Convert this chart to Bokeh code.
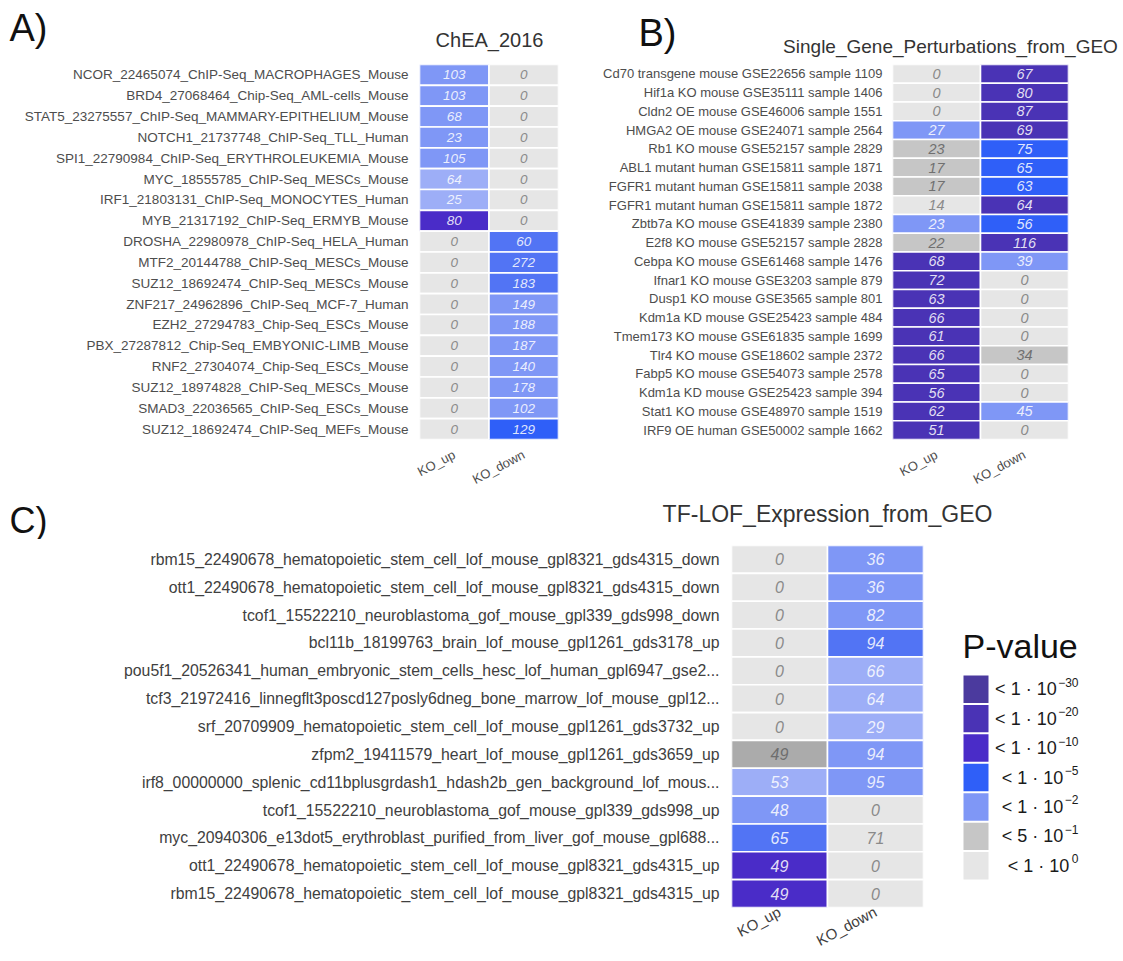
import math
from bokeh.plotting import figure
from bokeh.models import ColumnDataSource, FactorRange, Range1d
from bokeh.layouts import column, row
from bokeh.embed import file_html
from bokeh.resources import INLINE
from bokeh.core.properties import value

FONT = "Liberation Sans"
COLUMNS = ["KO_up", "KO_down"]

# ---------------- data ----------------
A_labels = [
    "NCOR_22465074_ChIP-Seq_MACROPHAGES_Mouse",
    "BRD4_27068464_Chip-Seq_AML-cells_Mouse",
    "STAT5_23275557_ChIP-Seq_MAMMARY-EPITHELIUM_Mouse",
    "NOTCH1_21737748_ChIP-Seq_TLL_Human",
    "SPI1_22790984_ChIP-Seq_ERYTHROLEUKEMIA_Mouse",
    "MYC_18555785_ChIP-Seq_MESCs_Mouse",
    "IRF1_21803131_ChIP-Seq_MONOCYTES_Human",
    "MYB_21317192_ChIP-Seq_ERMYB_Mouse",
    "DROSHA_22980978_ChIP-Seq_HELA_Human",
    "MTF2_20144788_ChIP-Seq_MESCs_Mouse",
    "SUZ12_18692474_ChIP-Seq_MESCs_Mouse",
    "ZNF217_24962896_ChIP-Seq_MCF-7_Human",
    "EZH2_27294783_Chip-Seq_ESCs_Mouse",
    "PBX_27287812_Chip-Seq_EMBYONIC-LIMB_Mouse",
    "RNF2_27304074_Chip-Seq_ESCs_Mouse",
    "SUZ12_18974828_ChIP-Seq_MESCs_Mouse",
    "SMAD3_22036565_ChIP-Seq_ESCs_Mouse",
    "SUZ12_18692474_ChIP-Seq_MEFs_Mouse",
]
A_up = [103, 103, 68, 23, 105, 64, 25, 80, 0, 0, 0, 0, 0, 0, 0, 0, 0, 0]
A_down = [0, 0, 0, 0, 0, 0, 0, 0, 60, 272, 183, 149, 188, 187, 140, 178, 102, 129]
A_up_p = ["e2", "e2", "e2", "e2", "e2", "e1", "e1", "e10",
          "g1", "g1", "g1", "g1", "g1", "g1", "g1", "g1", "g1", "g1"]
A_down_p = ["g1", "g1", "g1", "g1", "g1", "g1", "g1", "g1",
            "e4", "e4", "e4", "e2", "e2", "e2", "e2", "e2", "e2", "e5"]

B_labels = [
    "Cd70 transgene mouse GSE22656 sample 1109",
    "Hif1a KO mouse GSE35111 sample 1406",
    "Cldn2 OE mouse GSE46006 sample 1551",
    "HMGA2 OE mouse GSE24071 sample 2564",
    "Rb1 KO mouse GSE52157 sample 2829",
    "ABL1 mutant human GSE15811 sample 1871",
    "FGFR1 mutant human GSE15811 sample 2038",
    "FGFR1 mutant human GSE15811 sample 1872",
    "Zbtb7a KO mouse GSE41839 sample 2380",
    "E2f8 KO mouse GSE52157 sample 2828",
    "Cebpa KO mouse GSE61468 sample 1476",
    "Ifnar1 KO mouse GSE3203 sample 879",
    "Dusp1 KO mouse GSE3565 sample 801",
    "Kdm1a KD mouse GSE25423 sample 484",
    "Tmem173 KO mouse GSE61835 sample 1699",
    "Tlr4 KO mouse GSE18602 sample 2372",
    "Fabp5 KO mouse GSE54073 sample 2578",
    "Kdm1a KD mouse GSE25423 sample 394",
    "Stat1 KO mouse GSE48970 sample 1519",
    "IRF9 OE human GSE50002 sample 1662",
]
B_up = [0, 0, 0, 27, 23, 17, 17, 14, 23, 22, 68, 72, 63, 66, 61, 66, 65, 56, 62, 51]
B_down = [67, 80, 87, 69, 75, 65, 63, 64, 56, 116, 39, 0, 0, 0, 0, 34, 0, 0, 45, 0]
B_up_p = ["g1", "g1", "g1", "e2", "g5", "g5", "g5", "g1", "e2", "g5",
          "e20", "e20", "e20", "e20", "e20", "e20", "e20", "e20", "e20", "e20"]
B_down_p = ["e20", "e20", "e20", "e20", "e5", "e5", "e5", "e20", "e5", "e20",
            "e2", "g1", "g1", "g1", "g1", "g5", "g1", "g1", "e2", "g1"]

C_labels = [
    "rbm15_22490678_hematopoietic_stem_cell_lof_mouse_gpl8321_gds4315_down",
    "ott1_22490678_hematopoietic_stem_cell_lof_mouse_gpl8321_gds4315_down",
    "tcof1_15522210_neuroblastoma_gof_mouse_gpl339_gds998_down",
    "bcl11b_18199763_brain_lof_mouse_gpl1261_gds3178_up",
    "pou5f1_20526341_human_embryonic_stem_cells_hesc_lof_human_gpl6947_gse2...",
    "tcf3_21972416_linnegflt3poscd127posly6dneg_bone_marrow_lof_mouse_gpl12...",
    "srf_20709909_hematopoietic_stem_cell_lof_mouse_gpl1261_gds3732_up",
    "zfpm2_19411579_heart_lof_mouse_gpl1261_gds3659_up",
    "irf8_00000000_splenic_cd11bplusgrdash1_hdash2b_gen_background_lof_mous...",
    "tcof1_15522210_neuroblastoma_gof_mouse_gpl339_gds998_up",
    "myc_20940306_e13dot5_erythroblast_purified_from_liver_gof_mouse_gpl688...",
    "ott1_22490678_hematopoietic_stem_cell_lof_mouse_gpl8321_gds4315_up",
    "rbm15_22490678_hematopoietic_stem_cell_lof_mouse_gpl8321_gds4315_up",
]
C_up = [0, 0, 0, 0, 0, 0, 0, 49, 53, 48, 65, 49, 49]
C_down = [36, 36, 82, 94, 66, 64, 29, 94, 95, 0, 71, 0, 0]
C_up_p = ["g1", "g1", "g1", "g1", "g1", "g1", "g1", "g3", "e1", "e2", "e4", "e10", "e10"]
C_down_p = ["e2", "e2", "e2", "e4", "e1", "e1", "e1", "e2", "e2", "g1", "g1", "g1", "g1"]

legend_levels = ["e30", "e20", "e10", "e5", "e2", "g5", "g1"]
legend_base = ["< 1 \u00b7  10", "< 1 \u00b7  10", "< 1 \u00b7  10", "< 1 \u00b7  10",
               "< 1 \u00b7  10", "< 5 \u00b7  10", "< 1 \u00b7  10"]
legend_exp = ["\u221230", "\u221220", "\u221210", "\u22125", "\u22122", "\u22121", "0"]

# ---------------- styles ----------------
TIER_FILL = {
    "e30": "#4B3A9E", "e20": "#4A33B5", "e10": "#4A2CC8", "e5": "#2F5FF8",
    "e4": "#5274F4", "e2": "#7F97F6", "e1": "#9DAEF7",
    "g3": "#ABABAB", "g5": "#C6C6C6", "g1": "#E6E6E6",
}
TIER_TEXT = {
    "e30": "#FFFFFFD9", "e20": "#FFFFFFD9", "e10": "#FFFFFFD9", "e5": "#FFFFFFD9",
    "e4": "#FFFFFFD9", "e2": "#FFFFFFD9", "e1": "#FFFFFFD9",
    "g3": "#6E6E6E", "g5": "#707070", "g1": "#8A8A8A",
}


def heatmap(labels, up, down, up_p, down_p, width, height, bl, br, bt, bb,
            ylab_size, cell_size, xlab_size, xlab_angle, y_standoff, x_standoff,
            lab_color="#4D4D4D"):
    p = figure(width=width, height=height,
               x_range=FactorRange(*COLUMNS), y_range=FactorRange(*labels[::-1]),
               output_backend="svg", toolbar_location=None,
               min_border_left=bl, min_border_right=br,
               min_border_top=bt, min_border_bottom=bb)
    n = len(labels)
    src = ColumnDataSource(dict(
        x=["KO_up"] * n + ["KO_down"] * n,
        y=list(labels) + list(labels),
        v=[str(v) for v in list(up) + list(down)],
        fill=[TIER_FILL[t] for t in list(up_p) + list(down_p)],
        tc=[TIER_TEXT[t] for t in list(up_p) + list(down_p)],
    ))
    p.rect(x="x", y="y", width=1, height=1, source=src,
           fill_color="fill", line_color="white", line_width=1.6)
    p.text(x="x", y="y", text="v", source=src, text_color="tc",
           text_align="center", text_baseline="middle",
           text_font=value(FONT), text_font_style="italic",
           text_font_size=cell_size)
    p.grid.grid_line_color = None
    p.outline_line_color = None
    p.background_fill_color = "white"
    p.border_fill_color = "white"
    for ax in (p.xaxis, p.yaxis):
        ax.axis_line_color = None
        ax.major_tick_line_color = None
        ax.minor_tick_line_color = None
        ax.major_tick_out = 0
        ax.major_tick_in = 0
        ax.major_label_text_font = FONT
        ax.major_label_text_color = lab_color
    p.yaxis.major_label_text_font_size = ylab_size
    p.yaxis.major_label_standoff = y_standoff
    p.xaxis.major_label_text_font_size = xlab_size
    p.xaxis.major_label_orientation = math.radians(xlab_angle)
    p.xaxis.major_label_standoff = x_standoff
    return p


def header(width, height, items):
    """Text-only strip holding panel letters and titles (pixel coordinates,
    y = vertical centre of the text)."""
    h = figure(width=width, height=height, x_range=Range1d(0, width),
               y_range=Range1d(height, 0), output_backend="svg",
               toolbar_location=None, x_axis_type=None, y_axis_type=None,
               min_border_left=0, min_border_right=0,
               min_border_top=0, min_border_bottom=0)
    h.outline_line_color = None
    for text, x, y, size, color, align in items:
        h.text(x=[x], y=[y], text=[text], text_font=value(FONT),
               text_font_size=size, text_color=color, text_align=align,
               text_baseline="middle")
    return h


TOTAL_W = 1121

head1 = header(TOTAL_W, 60, [
    ("A)", 9, 27, "38px", "#111111", "left"),
    ("ChEA_2016", 489, 39, "20px", "#333333", "center"),
    ("B)", 638, 32, "38px", "#111111", "left"),
    ("Single_Gene_Perturbations_from_GEO", 950, 46, "19px", "#333333", "center"),
])

# Panel A (frame 419-558 x, 64-440 y on page)
pa = heatmap(A_labels, A_up, A_down, A_up_p, A_down_p, 587, 436, 419, 29, 4, 56,
             "13.5px", "13.5px", "13px", 28, 11, 14)
# Panel B (frame 892-1068)
pb = heatmap(B_labels, B_up, B_down, B_up_p, B_down_p, TOTAL_W - 587, 436, 305,
             TOTAL_W - 587 - 305 - 176, 4, 56,
             "13px", "14.5px", "13px", 28, 10, 14)

head2 = header(TOTAL_W, 43, [
    ("C)", 9, 23.5, "36px", "#111111", "left"),
    ("TF-LOF_Expression_from_GEO", 827, 17, "23px", "#333333", "center"),
])

# Panel C (frame 731-923 x, 545-907 y)
pc = heatmap(C_labels, C_up, C_down, C_up_p, C_down_p, 932, 420, 731, 9, 6, 52,
             "15.8px", "16px", "15px", 28, 12, 3, lab_color="#404040")

# Legend (same vertical frame as panel C; pixel coordinates inside it)
LW = TOTAL_W - 932
pl = figure(width=LW, height=420, x_range=Range1d(0, LW), y_range=Range1d(362, 0),
            output_backend="svg", toolbar_location=None,
            x_axis_type=None, y_axis_type=None,
            min_border_left=0, min_border_right=0,
            min_border_top=6, min_border_bottom=52)
pl.outline_line_color = None
pitch = 29.43
SUP = 12.0      # superscript font size (px)
RIGHT = 146.0   # right edge of legend labels


def sup_width(s):
    return sum((0.5 if ch == "\u2212" else 0.556) * SUP for ch in s)


ly = [129 + pitch * (i + 0.5) for i in range(len(legend_levels))]
lsrc = ColumnDataSource(dict(
    y=ly, ysup=[v - 7 for v in ly],
    base=legend_base, exp=legend_exp,
    xb=[RIGHT - sup_width(e) + 2.5 for e in legend_exp],
    fill=[TIER_FILL[t] for t in legend_levels]))
pl.rect(x=43.5, y="y", width=25, height=pitch - 2, source=lsrc,
        fill_color="fill", line_color=None)
pl.text(x="xb", y="y", text="base", source=lsrc, text_align="right",
        text_baseline="middle", text_font=value(FONT), text_font_size="18px",
        text_color="#1A1A1A")
pl.text(x=RIGHT, y="ysup", text="exp", source=lsrc, text_align="right",
        text_baseline="middle", text_font=value(FONT),
        text_font_size=f"{SUP}px", text_color="#1A1A1A")
pl.text(x=[30], y=[100], text=["P-value"], text_font=value(FONT),
        text_font_size="34px", text_color="#111111", text_baseline="middle")

layout = column(head1, row(pa, pb), head2, row(pc, pl))
open("out.html", "w").write(file_html(layout, INLINE))
